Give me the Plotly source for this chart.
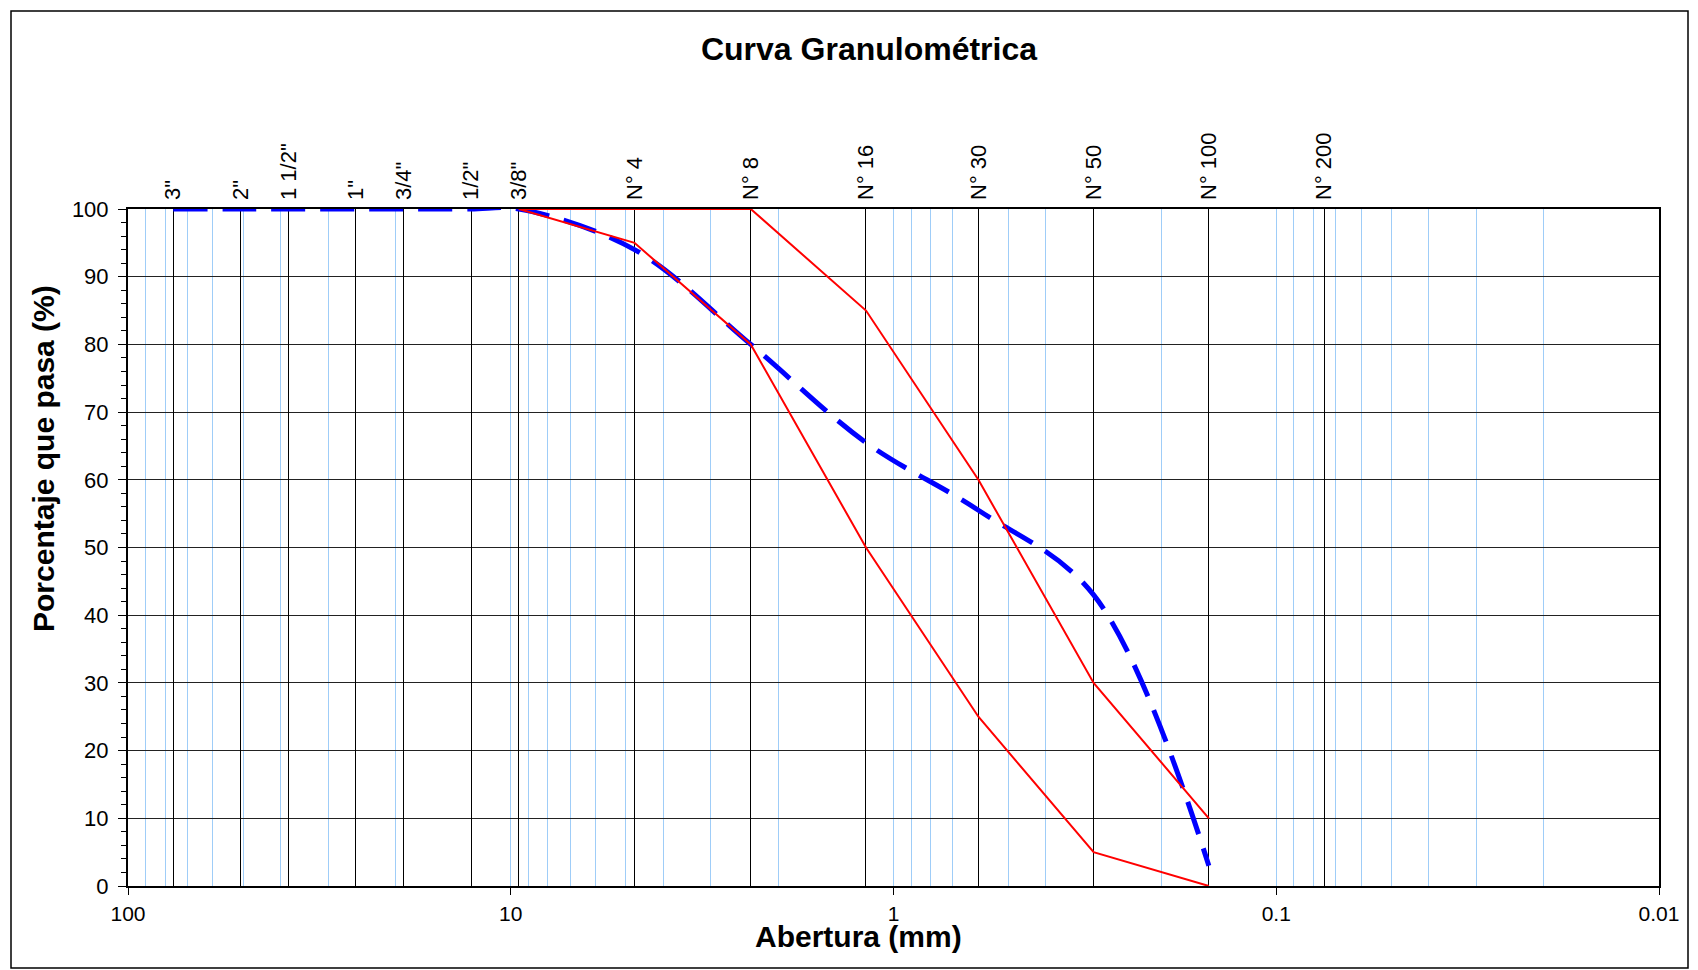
import plotly.graph_objects as go

# ---- data ----
sieve_labels = ['3"', '2"', '1 1/2"', '1"', '3/4"', '1/2"', '3/8"',
                "N° 4", "N° 8", "N° 16", "N° 30", "N° 50", "N° 100", "N° 200"]
sieve_mm = [76.2, 50.8, 38.1, 25.4, 19.05, 12.7, 9.525,
            4.75, 2.36, 1.18, 0.6, 0.3, 0.15, 0.075]

sample_mm = [76.2, 50.8, 38.1, 25.4, 19.05, 12.7, 9.525, 4.75, 2.36, 1.18, 0.6, 0.3, 0.15]
sample_pct = [100, 100, 100, 100, 100, 100, 100, 94, 80, 65.5, 55.5, 43, 3]

limit_mm = [9.525, 4.75, 2.36, 1.18, 0.6, 0.3, 0.15]
upper_pct = [100, 100, 100, 85, 60, 30, 10]
lower_pct = [100, 95, 80, 50, 25, 5, 0]

bottom_tickvals = [100, 10, 1, 0.1, 0.01]
bottom_ticktext = ["100", "10", "1", "0.1", "0.01"]

# ---- layout constants ----
W, H = 1698, 970
L, R, T, B = 128, 39, 209, 84
PW, PH = W - L - R, H - T - B
FONT = "Liberation Sans, Arial, sans-serif"
LB = "#9fcdf8"

minor_vals = [d * 10 ** e for e in range(-2, 2) for d in range(2, 10)]

fig = go.Figure()
fig.add_trace(go.Scatter(x=sample_mm, y=sample_pct, mode="lines",
                         line=dict(color="#0000FF", width=5, dash="34px,15px", shape="spline"),
                         showlegend=False, hoverinfo="x+y"))
fig.add_trace(go.Scatter(x=limit_mm, y=upper_pct, mode="lines",
                         line=dict(color="#FF0000", width=2), showlegend=False))
fig.add_trace(go.Scatter(x=limit_mm, y=lower_pct, mode="lines",
                         line=dict(color="#FF0000", width=2), showlegend=False))
# invisible trace to activate the top axis
fig.add_trace(go.Scatter(x=[sieve_mm[0]], y=[None], xaxis="x2", mode="lines",
                         showlegend=False, hoverinfo="skip"))

def px2paper_x(px):
    return (px - L) / PW

def px2paper_y(py):
    return (H - B - py) / PH

fig.update_layout(
    width=W, height=H,
    margin=dict(l=L, r=R, t=T, b=B, pad=0),
    paper_bgcolor="white", plot_bgcolor="white",
    font=dict(family=FONT, size=22, color="black"),
    title=dict(text="Curva Granulométrica", x=869 / W, xref="container", xanchor="center",
               y=1 - 49 / H, yref="container", yanchor="middle",
               font=dict(family=FONT, size=32, color="black", weight="bold")),
    xaxis=dict(type="log", range=[2, -2], tickmode="array",
               tickvals=bottom_tickvals, ticktext=bottom_ticktext,
               showgrid=True, gridcolor=LB, gridwidth=1,
               ticks="outside", ticklen=7, tickcolor="black", tickwidth=1,
               showline=True, linecolor="black", linewidth=2, mirror=True,
               zeroline=False, ticklabelstandoff=1,
               tickfont=dict(size=21, color="black"),
               minor=dict(tickmode="array", tickvals=minor_vals, showgrid=True,
                          gridcolor=LB, gridwidth=1, ticks="")),
    xaxis2=dict(type="log", range=[2, -2], overlaying="x", side="top", anchor="y",
                tickmode="array", tickvals=sieve_mm, ticktext=sieve_labels,
                tickangle=-90, showgrid=True, gridcolor="black", gridwidth=1,
                ticks="", showline=False, zeroline=False, ticklabelstandoff=8,
                tickfont=dict(size=22, color="black")),
    yaxis=dict(range=[0, 100], tickmode="linear", tick0=0, dtick=10,
               showgrid=True, gridcolor="#222222", gridwidth=1,
               ticks="outside", ticklen=8, tickcolor="black", tickwidth=1,
               showline=True, linecolor="black", linewidth=2, mirror=True,
               zeroline=False, ticklabelstandoff=5,
               tickfont=dict(size=22, color="black"),
               minor=dict(dtick=2, ticks="outside", ticklen=5, tickcolor="black",
                          tickwidth=1, showgrid=False)),
    annotations=[
        dict(text="<b>Abertura (mm)</b>", xref="paper", yref="paper",
             x=px2paper_x(858), y=px2paper_y(936), xanchor="center", yanchor="middle",
             showarrow=False, font=dict(family=FONT, size=30, color="black")),
        dict(text="<b>Porcentaje que pasa (%)</b>", xref="paper", yref="paper",
             x=px2paper_x(43), y=px2paper_y(459), xanchor="center", yanchor="middle",
             textangle=-90, showarrow=False, font=dict(family=FONT, size=30, color="black")),
    ],
    shapes=[dict(type="rect", xref="paper", yref="paper",
                 x0=px2paper_x(11), x1=px2paper_x(1688),
                 y0=px2paper_y(968), y1=px2paper_y(11),
                 line=dict(color="black", width=1.5), fillcolor="rgba(0,0,0,0)",
                 layer="below")],
)

fig.write_html("out.html", config={"displayModeBar": False},
               post_script="document.body.style.margin='0';document.body.style.overflow='hidden';")
